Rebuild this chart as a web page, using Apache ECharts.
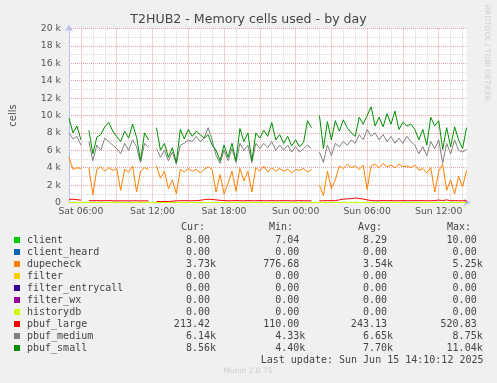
<!DOCTYPE html>
<html><head><meta charset="utf-8">
<script src="https://cdn.jsdelivr.net/npm/echarts@6/dist/echarts.min.js"></script>
<style>html,body{margin:0;padding:0;background:#f0f0f0}#c{width:497px;height:383px}</style>
</head><body><div id="c"></div>
<script>
// ---- data (values in thousands, 20-minute samples starting Sat 05:00) ----
const startHour = 5;            // Sat 05:00
const endHour = 38.33;          // Sun 14:20
const sampleStepHours = 1 / 3;  // 20 minutes

const pbufSmallK = [9.7,8.0,8.8,7.2,null,8.3,5.6,7.5,7.8,8.7, 9.2,8.2,7.6,7.0,8.2,7.4,9.0,7.5,4.8,8.0, 7.2,null,8.6,6.0,6.8,5.2,6.3,4.6,8.4,7.3, 8.4,7.6,8.2,7.8,7.4,7.8,6.6,6.0,4.8,6.6, 5.2,6.8,4.8,8.5,7.0,8.0,4.8,8.0,7.4,8.3, 7.6,9.2,7.2,7.8,6.8,7.6,6.5,7.2,6.4,6.9, 9.4,8.6,null,10.0,6.2,9.3,7.2,9.4,8.2,9.5, 8.6,8.0,7.6,9.8,9.0,10.0,11.0,8.8,9.8,8.7, 10.2,9.0,10.5,8.4,9.2,8.8,9.0,8.4,7.2,8.4, 6.6,9.8,8.8,9.4,6.1,8.6,6.4,8.7,7.2,6.2, 8.6];
const pbufMediumK = [8.0,7.3,7.6,6.6,null,7.0,4.8,6.6,6.0,7.4, 7.0,6.6,6.2,5.6,6.8,6.0,7.2,6.4,4.6,6.8, 6.3,null,6.2,5.2,6.0,4.8,5.8,4.4,6.6,6.8, 7.2,7.0,7.6,7.0,7.4,8.6,7.2,5.4,4.5,6.0, 4.8,6.2,4.6,6.8,6.0,6.6,4.6,6.8,6.2,6.8, 6.3,7.0,6.0,6.6,6.0,6.6,5.8,6.4,5.8,6.2, 6.6,6.2,null,5.8,4.6,6.6,5.4,6.8,6.4,7.0, 6.6,7.2,6.8,7.8,7.2,8.4,7.6,8.0,7.2,7.8, 7.0,7.6,6.8,7.4,6.8,7.6,7.0,6.6,5.6,6.4, 5.4,7.0,6.2,7.2,4.5,6.8,5.6,7.2,6.0,5.8, 6.1];
const dupecheckK = [5.2,3.8,4.0,3.9,null,4.0,0.9,3.8,4.1,3.6, 4.0,3.7,3.9,1.4,3.8,3.5,4.2,1.2,3.6,4.0, 3.8,null,4.2,2.8,3.6,1.6,2.6,1.0,3.8,3.5, 3.9,3.6,3.8,3.4,3.8,4.1,3.8,1.2,3.2,1.0, 2.2,3.6,1.3,3.9,2.5,3.6,1.2,4.0,3.6,4.2, 3.5,4.0,3.6,3.9,3.6,3.8,3.4,3.8,3.7,3.9, 3.5,3.8,null,2.0,0.8,3.6,1.6,2.6,4.2,3.9, 4.4,4.0,4.2,3.8,4.3,1.5,4.2,4.4,4.0,4.5, 4.1,4.3,4.0,4.4,4.1,4.2,4.0,4.3,3.7,3.9, 3.4,4.0,1.2,3.6,4.4,1.4,2.6,1.0,3.0,1.8, 3.7];
const pbufLargeK = [0.36,0.38,0.32,0.28,null,0.22,0.2,0.22,0.2,0.2, 0.22,0.2,0.18,0.2,0.2,0.18,0.2,0.2,0.18,0.2, 0.18,null,0.12,0.11,0.12,0.12,0.15,0.2,0.2,0.22, 0.2,0.2,0.22,0.25,0.32,0.38,0.35,0.3,0.25,0.22, 0.2,0.2,0.22,0.2,0.2,0.22,0.2,0.2,0.22,0.2, 0.2,0.22,0.2,0.2,0.22,0.2,0.2,0.2,0.22,0.2, 0.2,0.2,null,0.2,0.2,0.22,0.2,0.22,0.3,0.38, 0.42,0.45,0.52,0.45,0.4,0.3,0.22,0.2,0.2,0.22, 0.2,0.22,0.2,0.2,0.22,0.2,0.2,0.22,0.2,0.22, 0.2,0.2,0.22,0.28,0.22,0.3,0.2,0.22,0.2,0.2, 0.21];
// near-zero series: values at start and end of the range
const flatTimes = [startHour, endHour];
const clientK = [0.008, 0.008];
const clientHeardK = [0, 0];
const filterK = [0, 0];
const filterEntrycallK = [0, 0];
const filterWxK = [0, 0];
const historydbK = [0, 0];

const xTickHours = [6, 12, 18, 24, 30, 36];
const xTickLabels = ['Sat 06:00', 'Sat 12:00', 'Sat 18:00', 'Sun 00:00', 'Sun 06:00', 'Sun 12:00'];

const legendNames = ['client','client_heard','dupecheck','filter','filter_entrycall','filter_wx','historydb','pbuf_large','pbuf_medium','pbuf_small'];
const legendColors = ['#00CC00','#0066B3','#FF8000','#FFCC00','#330099','#990099','#CCFF00','#FF0000','#808080','#008F00'];
const curVals = ['8.00','0.00','3.73k','0.00','0.00','0.00','0.00','213.42','6.14k','8.56k'];
const minVals = ['7.04','0.00','776.68','0.00','0.00','0.00','0.00','110.00','4.33k','4.40k'];
const avgVals = ['8.29','0.00','3.54k','0.00','0.00','0.00','0.00','243.13','6.65k','7.70k'];
const maxVals = ['10.00','0.00','5.25k','0.00','0.00','0.00','0.00','520.83','8.75k','11.04k'];
const lastUpdate = 'Last update: Sun Jun 15 14:10:12 2025';

// ---- build ----
function sampled(vals) {
  return vals.map((v, i) => [startHour + i * sampleStepHours, v === null ? '-' : v]);
}
function flat(vals) { return vals.map((v, i) => [flatTimes[i], v]); }

const seriesData = [
  flat(clientK), flat(clientHeardK), sampled(dupecheckK), flat(filterK),
  flat(filterEntrycallK), flat(filterWxK), flat(historydbK),
  sampled(pbufLargeK), sampled(pbufMediumK), sampled(pbufSmallK)
];

const SANS = 'DejaVu Sans';
const major = '#e4a4a4';
const minor = '#d6d6d6';
const axisBlue = '#b9c2ee';

const graphic = [];
graphic.push({type:'text', x:248.5, y:19.5, silent:true,
  style:{text:'T2HUB2 - Memory cells used - by day', font:'12.6px "DejaVu Sans"', fill:'#444', align:'center', verticalAlign:'middle'}});
graphic.push({type:'text', x:487, y:53, rotation:-Math.PI/2, silent:true,
  style:{text:'RRDTOOL / TOBI OETIKER', font:'7.5px "DejaVu Sans"', fill:'#cfcfcf', align:'center', verticalAlign:'middle'}});
graphic.push({type:'text', x:248, y:371, silent:true,
  style:{text:'Munin 2.0.75', font:'7.5px "DejaVu Sans"', fill:'#cccccc', align:'center', verticalAlign:'middle'}});

const monoFont = '10px "DejaVu Sans Mono"';
const txt = '#444';
const headerY = 227.5;
const rowY0 = 240, rowDY = 12;
const colRight = [216, 305.3, 393, 482.7];
const headers = ['Cur:', 'Min:', 'Avg:', 'Max:'];
const headerX = [181, 269, 358, 447];
headers.forEach((h, j) => graphic.push({type:'text', x:headerX[j], y:headerY, silent:true,
  style:{text:h, font:monoFont, fill:txt, align:'left', verticalAlign:'middle'}}));
const cols = [curVals, minVals, avgVals, maxVals];
legendNames.forEach((name, i) => {
  const y = rowY0 + i * rowDY;
  graphic.push({type:'rect', shape:{x:14, y:y-3, width:6, height:6}, silent:true, style:{fill:legendColors[i]}});
  graphic.push({type:'text', x:27, y:y, silent:true, style:{text:name, font:monoFont, fill:txt, align:'left', verticalAlign:'middle'}});
  cols.forEach((col, j) => {
    const s = col[i];
    const t = s.endsWith('k') ? s : s + ' ';
    graphic.push({type:'text', x:colRight[j], y:y, silent:true, style:{text:t, font:monoFont, fill:txt, align:'right', verticalAlign:'middle'}});
  });
});
graphic.push({type:'text', x:483.5, y:rowY0 + legendNames.length * rowDY, silent:true,
  style:{text:lastUpdate, font:monoFont, fill:txt, align:'right', verticalAlign:'middle'}});

const chart = echarts.init(document.getElementById('c'), null, {renderer:'canvas'});
chart.setOption({
  backgroundColor: '#f0f0f0',
  animation: false,
  grid: {left:66.5, top:28.5, width:400, height:174, show:true, backgroundColor:'#ffffff', borderWidth:0},
  xAxis: {
    type:'value', min:startHour, max:endHour, interval:1,
    axisLine:{show:true, onZero:false, symbol:['none','arrow'], symbolSize:[6,7], symbolOffset:[0,4], lineStyle:{color:axisBlue, width:1}},
    axisTick:{show:false},
    axisLabel:{
      formatter: v => { const k = xTickHours.indexOf(v); return k >= 0 ? xTickLabels[k] : ''; },
      margin:5, fontSize:9.3, color:'#555', fontFamily:SANS
    },
    splitLine:{show:true, showMinLine:true, showMaxLine:false, lineStyle:{color:[minor, major, minor], type:[1,1], width:1}}
  },
  yAxis: {
    type:'value', min:0, max:20, interval:1,
    name:'cells', nameLocation:'middle', nameGap:51, nameRotate:90,
    nameTextStyle:{fontSize:10, color:'#555', fontFamily:SANS},
    axisLine:{show:true, onZero:false, symbol:['none','arrow'], symbolSize:[6,7], symbolOffset:[0,4], lineStyle:{color:axisBlue, width:1}},
    axisTick:{show:false},
    axisLabel:{
      formatter: v => (v % 2 === 0 ? (v === 0 ? '0' : v + ' k') : ''),
      margin:8, fontSize:9.3, color:'#555', fontFamily:SANS
    },
    splitLine:{show:true, lineStyle:{color:[major, minor], type:[1,1], width:1}}
  },
  series: legendNames.map((name, i) => ({
    name, type:'line', data:seriesData[i], showSymbol:false, symbol:'none', silent:true,
    connectNulls:false, lineStyle:{color:legendColors[i], width:1}, itemStyle:{color:legendColors[i]}
  })),
  graphic
});
</script></body></html>
